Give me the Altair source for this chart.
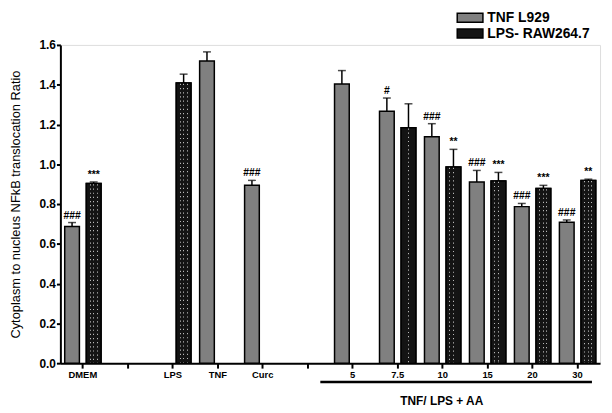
import altair as alt
import pandas as pd

categories = ["DMEM", "gap1", "LPS", "TNF", "Curc", "gap2", "5", "7.5", "10", "15", "20", "30"]
series = ["TNF L929", "LPS- RAW264.7"]

tnf_vals = [0.687, None, None, 1.519, 0.894, None, 1.403, 1.267, 1.138, 0.911, 0.787, 0.709]
tnf_err = [0.020, None, None, 0.046, 0.025, None, 0.068, 0.066, 0.066, 0.058, 0.016, 0.011]
tnf_sig = ["###", "", "", "", "###", "", "", "#", "###", "###", "###", "###"]

lps_vals = [0.903, None, 1.408, None, None, None, None, 1.184, 0.986, 0.916, 0.878, 0.919]
lps_err = [0.008, None, 0.045, None, None, None, None, 0.120, 0.089, 0.043, 0.016, 0.006]
lps_sig = ["***", "", "", "", "", "", "", "", "**", "***", "***", "**"]

y_ticks = [0.0, 0.2, 0.4, 0.6, 0.8, 1.0, 1.2, 1.4, 1.6]

rows = []
for s, vals, errs, sigs in [(series[0], tnf_vals, tnf_err, tnf_sig),
                            (series[1], lps_vals, lps_err, lps_sig)]:
    for c, v, e, g in zip(categories, vals, errs, sigs):
        if v is None:
            continue
        rows.append({"cat": c, "series": s, "val": v, "hi": v + e, "sig": g})
df = pd.DataFrame(rows)

W = 546
H = 322
FONT = "Liberation Sans"

x_enc = alt.X("cat:N", scale=alt.Scale(domain=categories, paddingInner=0, paddingOuter=0),
              axis=alt.Axis(title=None, labelAngle=0, labelFontWeight="bold", labelFontSize=9.5,
                            labelFont=FONT, labelColor="black",
                            labelExpr="indexof(datum.label, 'gap') == 0 ? '' : datum.label",
                            domainColor="black", domainWidth=2, tickColor="black", tickWidth=2,
                            tickSize=5, labelPadding=1))
xoff = alt.XOffset("series:N", scale=alt.Scale(domain=series, paddingInner=0.32, paddingOuter=0.2))
y_enc = alt.Y("val:Q", scale=alt.Scale(domain=[0, 1.6], nice=False),
              axis=alt.Axis(title="Cytoplasm to nucleus NFkB translocation Ratio", values=y_ticks,
                            format=".1f", grid=False, labelFontWeight="bold", labelFontSize=12,
                            labelFont=FONT, labelColor="black", titleFont=FONT, titleFontSize=13,
                            titleFontWeight="normal", titleColor="black", titlePadding=17,
                            labelPadding=1,
                            domainColor="black", domainWidth=2, tickColor="black", tickWidth=2,
                            tickSize=4))

color = alt.Color("series:N", scale=alt.Scale(domain=series, range=["#808080", "#141414"]),
                  legend=alt.Legend(title=None, orient="none", legendX=407, legendY=-35, padding=0,
                                    symbolType="M-2,-0.7 L2,-0.7 L2,0.7 L-2,0.7 Z",
                                    symbolSize=169, symbolStrokeColor="black", symbolStrokeWidth=1.5,
                                    labelFont=FONT, labelFontSize=14, labelFontWeight="bold",
                                    labelColor="black", rowPadding=-4, labelOffset=10))

base = alt.Chart(df)
xc = alt.X("cat:N", scale=alt.Scale(domain=categories))
lps_only = alt.datum.series == series[1]

bars = base.mark_bar(stroke="black", strokeWidth=1.5).encode(x=x_enc, xOffset=xoff, y=y_enc, color=color)

# dotted texture of the black bars: light columns from a gradient, masked by a dashed black rule
DK, LT = "#141414", "#b8b8b8"
stops = []
for a, b in [(0.0, 0.23), (0.29, 0.47), (0.53, 0.71), (0.77, 1.0)]:
    stops += [alt.GradientStop(offset=a, color=DK), alt.GradientStop(offset=b, color=DK)]
    if b < 1.0:
        stops += [alt.GradientStop(offset=b, color=LT), alt.GradientStop(offset=b + 0.06, color=LT)]
grad = alt.LinearGradient(gradient="linear", stops=stops, x1=0, x2=1, y1=0, y2=0)

black_bars = base.transform_filter(lps_only).mark_bar(
    fill=grad, stroke="black", strokeWidth=1.5).encode(x=xc, xOffset=xoff, y="val:Q")
mask = base.transform_filter(lps_only).transform_calculate(top="datum.val - 0.01").mark_rule(
    color=DK, strokeWidth=11, strokeDash=[3, 1.2], strokeCap="butt").encode(
    x=xc, xOffset=xoff, y=alt.Y("top:Q"), y2=alt.datum(0.004))

err = base.mark_rule(color="black", strokeWidth=1.5).encode(x=xc, xOffset=xoff, y="val:Q", y2="hi:Q")
cap = base.mark_tick(color="black", thickness=1.5, size=8, orient="horizontal").encode(
    x=xc, xOffset=xoff, y="hi:Q")
sig = base.mark_text(font=FONT, fontSize=10.5, fontWeight="bold", baseline="bottom", dy=-2,
                     color="black").encode(x=xc, xOffset=xoff, y="hi:Q", text="sig:N")

step = W / len(categories)
bracket = alt.Chart(pd.DataFrame({"a": [0]})).mark_rule(color="black", strokeWidth=2.5).encode(
    x=alt.value(step * 5.78), x2=alt.value(step * 11.82), y=alt.value(H + 19))
bracket_txt = alt.Chart(pd.DataFrame({"t": ["TNF/ LPS + AA"]})).mark_text(
    font=FONT, fontSize=12, fontWeight="bold", color="black", baseline="middle").encode(
    x=alt.value(step * 8.48), y=alt.value(H + 38), text="t:N")

chart = alt.layer(bars, black_bars, mask, err, cap, sig, bracket, bracket_txt).properties(
    width=W, height=H, autosize="none",
    padding={"left": 53, "top": 35, "right": 4, "bottom": 43}
).configure_view(stroke=None).configure(background="white")

chart.save("out.html", embed_options={"renderer": "svg", "actions": False})
